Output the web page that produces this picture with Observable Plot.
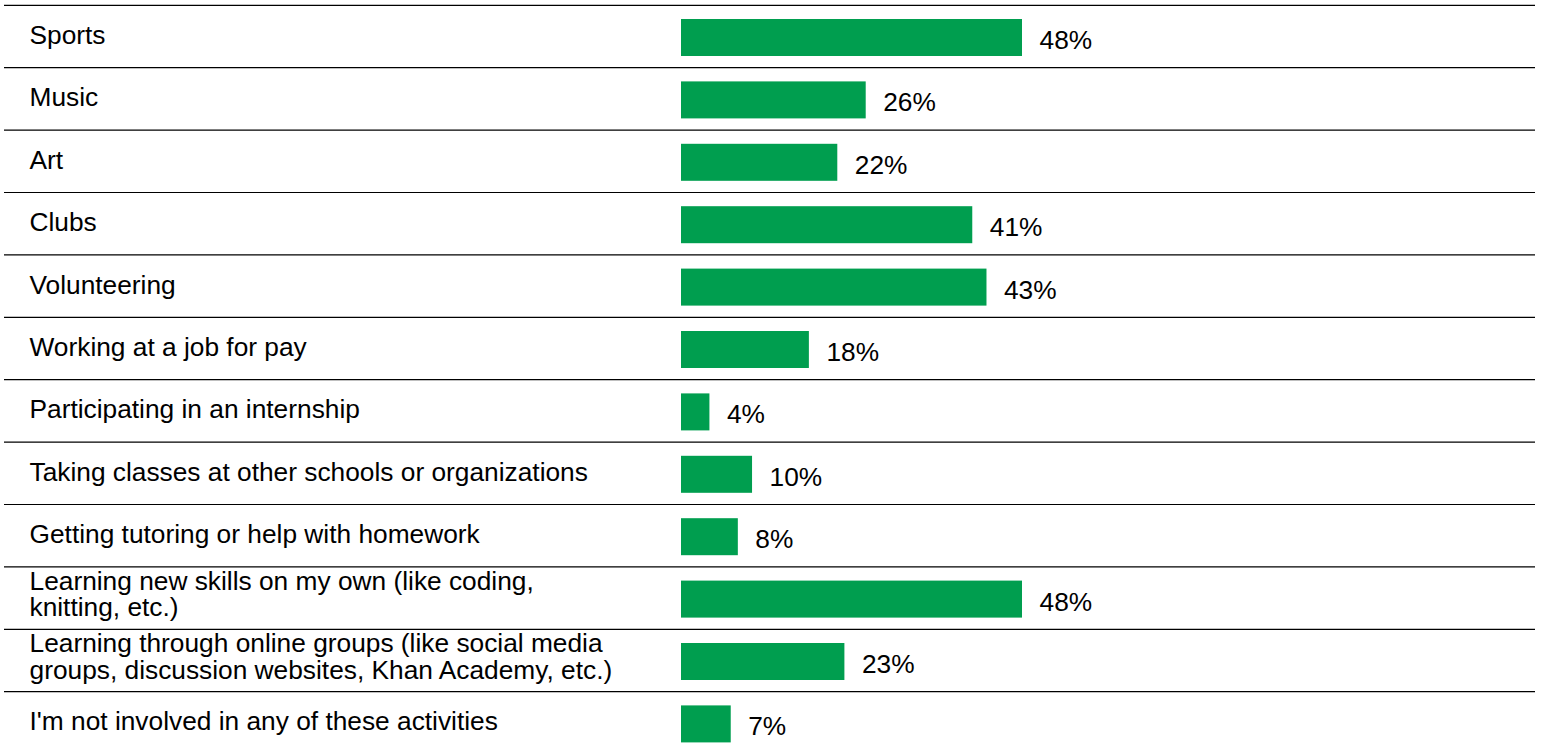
<!DOCTYPE html>
<html>
<head>
<meta charset="utf-8">
<script src="https://cdn.jsdelivr.net/npm/d3@7"></script>
<script src="https://cdn.jsdelivr.net/npm/@observablehq/plot@0.6"></script>
<style>
  html, body { margin: 0; padding: 0; background: #fff; overflow: hidden; }
  #chart svg { display: block; }
</style>
</head>
<body>
<div id="chart"></div>
<script>
const categories = [
  "Sports",
  "Music",
  "Art",
  "Clubs",
  "Volunteering",
  "Working at a job for pay",
  "Participating in an internship",
  "Taking classes at other schools or organizations",
  "Getting tutoring or help with homework",
  "Learning new skills on my own (like coding, knitting, etc.)",
  "Learning through online groups (like social media groups, discussion websites, Khan Academy, etc.)",
  "I'm not involved in any of these activities"
];
const labels = [
  "Sports",
  "Music",
  "Art",
  "Clubs",
  "Volunteering",
  "Working at a job for pay",
  "Participating in an internship",
  "Taking classes at other schools or organizations",
  "Getting tutoring or help with homework",
  "Learning new skills on my own (like coding,\nknitting, etc.)",
  "Learning through online groups (like social media\ngroups, discussion websites, Khan Academy, etc.)",
  "I'm not involved in any of these activities"
];
const values = [48, 26, 22, 41, 43, 18, 4, 10, 8, 48, 23, 7];

const data = categories.map((c, i) => ({category: c, label: labels[i], value: values[i]}));
const single = data.filter(d => !d.label.includes("\n"));
const multi = data.filter(d => d.label.includes("\n"));

const green = "#009E4F";
const fontSize = 26.3;
const labelStyle = {
  y: "category", text: "label", frameAnchor: "left", dx: 25,
  textAnchor: "start", lineAnchor: "middle", lineHeight: 1.0,
  fontSize, fill: "#000"
};

const chart = Plot.plot({
  width: 1541,
  height: 750,
  marginLeft: 4,
  marginRight: 6,
  marginTop: 0,
  marginBottom: 0,
  style: {fontFamily: "'Liberation Sans', Arial, sans-serif", background: "#fff", color: "#000"},
  x: {domain: [0, 48], range: [681, 1022], axis: null},
  y: {type: "band", domain: categories, range: [6.3, 755.1], round: false, paddingInner: 0.407, paddingOuter: 0.2035, axis: null},
  marks: [
    Plot.ruleY(categories, {y: d => d, dy: -32.7, stroke: "#000", strokeWidth: 1.2}),
    Plot.barX(data, {y: "category", x1: 0, x2: "value", fill: green}),
    Plot.text(single, {...labelStyle, dy: -2.5}),
    Plot.text(multi, {...labelStyle, dy: -5}),
    Plot.text(data, {
      y: "category", x: "value", text: d => d.value + "%", dx: 17, dy: 2.5,
      textAnchor: "start", fontSize, fill: "#000"
    })
  ]
});
document.getElementById("chart").appendChild(chart);
</script>
</body>
</html>
